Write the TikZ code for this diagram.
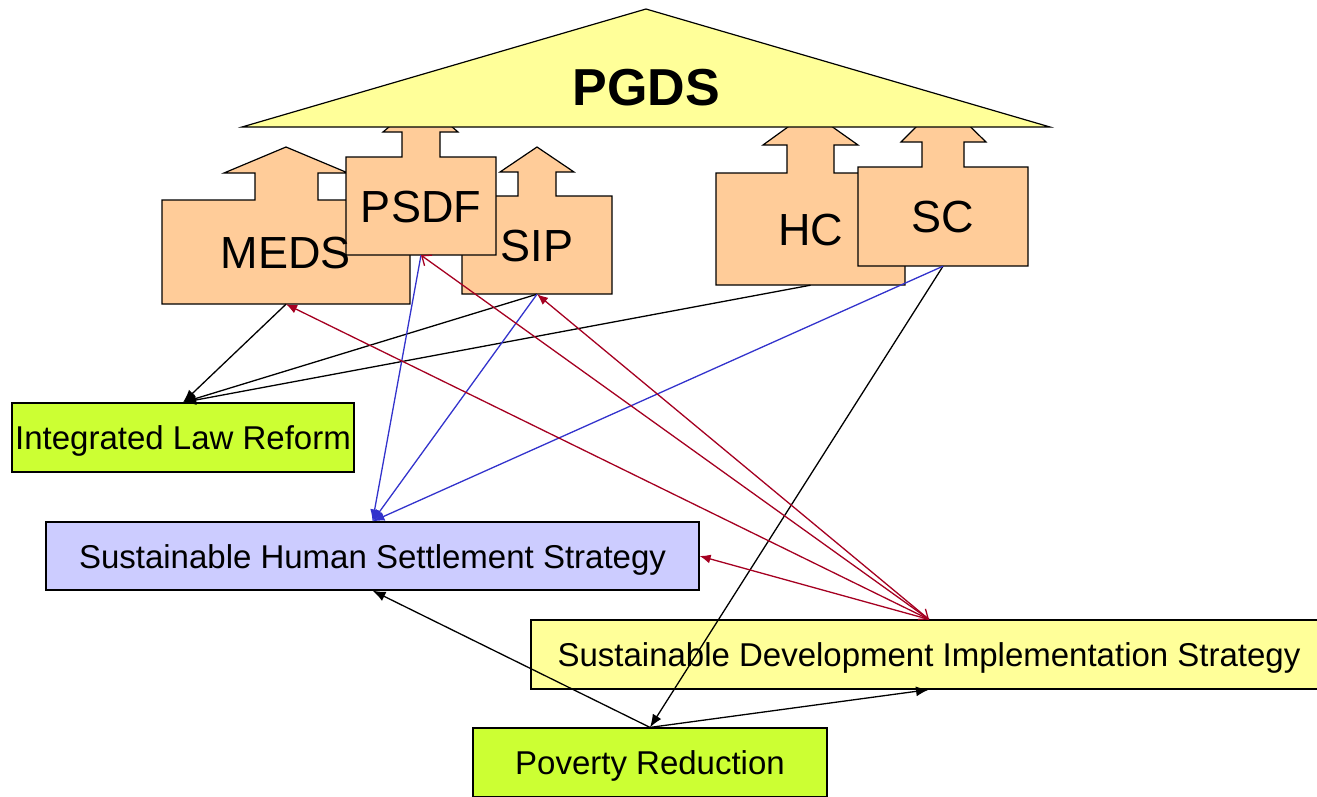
\documentclass[tikz,border=0pt]{standalone}
\usepackage{fontspec}
\setmainfont{Liberation Sans}
\usetikzlibrary{arrows.meta}

\definecolor{peach}{RGB}{255,204,153}
\definecolor{paleyellow}{RGB}{255,255,153}
\definecolor{limegreen}{RGB}{204,255,51}
\definecolor{lavender}{RGB}{204,204,255}
\definecolor{linkred}{RGB}{165,0,33}
\definecolor{linkblue}{RGB}{51,51,204}

\tikzset{
  house/.style={draw, fill=peach, line width=1.2pt, line join=miter},
  houselabel/.style={inner sep=0pt, text height=32pt, text depth=0pt, font=\fontsize{45}{50}\selectfont},
  strategybox/.style={draw, line width=1.2pt, inner sep=0pt, minimum height=69pt,
    text height=24pt, text depth=0pt, font=\fontsize{33}{40}\selectfont},
  blackarrow/.style={-{Latex[length=13pt,width=10pt]}, line width=1.3pt},
  bluearrow/.style={draw=linkblue, -{Latex[length=12pt,width=9pt]}, line width=1.3pt},
  redarrow/.style={draw=linkred, -{Latex[length=11pt,width=9pt]}, line width=1.3pt},
  redopen/.style={draw=linkred, {Straight Barb[length=8pt,width=13pt]}-{Straight Barb[length=8pt,width=13pt]}, line width=1.3pt}
}

\begin{document}
\begin{tikzpicture}[x=1pt, y=-1pt]
        \useasboundingbox (0,0) rectangle (1317,796);

        %draw blocks with their up arrows
        \draw[house] (162,304) -- (162,200) -- (255,200) -- (255,173) -- (224,173) -- (286,147) -- (348,173) -- (318,173) -- (318,200) -- (410,200) -- (410,304) -- cycle;
        \draw[house] (462,294) -- (462,196) -- (518,196) -- (518,172) -- (500,172) -- (537,147) -- (574,172) -- (556,172) -- (556,196) -- (612,196) -- (612,294) -- cycle;
        \draw[house] (346,255) -- (346,157) -- (402,157) -- (402,132) -- (383,132) -- (421,100) -- (458,132) -- (440,132) -- (440,157) -- (496,157) -- (496,255) -- cycle;
        \draw[house] (716,285) -- (716,173) -- (787,173) -- (787,145) -- (763,145) -- (810,111) -- (858,145) -- (834,145) -- (834,173) -- (905,173) -- (905,285) -- cycle;
        \draw[house] (858,266) -- (858,167) -- (922,167) -- (922,142) -- (901,142) -- (943,100) -- (986,142) -- (964,142) -- (964,167) -- (1028,167) -- (1028,266) -- cycle;

        \node[houselabel, minimum width=248pt, minimum height=104pt] (meds) at (286,252) {MEDS};
        \node[houselabel, minimum width=150pt, minimum height=98pt] (sip) at (537,245) {SIP};
        \node[houselabel, minimum width=150pt, minimum height=98pt] (psdf) at (421,206) {PSDF};
        \node[houselabel, minimum width=189pt, minimum height=112pt] (hc) at (810.5,229) {HC};
        \node[houselabel, minimum width=170pt, minimum height=99pt] (sc) at (943,216.5) {SC};

        %draw roof
        \draw[fill=paleyellow, line width=1.2pt] (242,127) -- (646,9) -- (1050,127) -- cycle;
        \node[inner sep=0pt, font=\fontsize{52}{56}\selectfont\bfseries] (pgds) at (646,88) {PGDS};

        %strategies
        \node[strategybox, fill=limegreen, minimum width=342pt] (ilr) at (183,437.5) {Integrated Law Reform};
        \node[strategybox, fill=lavender, minimum width=653pt, minimum height=68pt] (shss) at (372.5,556) {Sustainable Human Settlement Strategy};
        \node[strategybox, fill=paleyellow, minimum width=796pt] (sdis) at (929,654.5) {Sustainable Development Implementation Strategy};
        \node[strategybox, fill=limegreen, minimum width=354pt] (pr) at (650,762.5) {Poverty Reduction};

        %black links
        \draw[blackarrow] (meds.south) -- (ilr.north);
        \draw[blackarrow] (sip.south) -- (ilr.north);
        \draw[blackarrow] (hc.south) -- (ilr.north);
        \draw[blackarrow] (sc.south) -- (pr.north);
        \draw[blackarrow] (pr.north) -- (shss.south);
        \draw[blackarrow] (pr.north) -- (sdis.south);

        %blue links
        \draw[bluearrow] (psdf.south) -- (shss.north);
        \draw[bluearrow] (sip.south) -- (shss.north);
        \draw[bluearrow] (sc.south) -- (shss.north);

        %red links
        \draw[redarrow] (sdis.north) -- (meds.south);
        \draw[redopen] (sdis.north) -- (psdf.south);
        \draw[redarrow] (sdis.north) -- (sip.south);
        \draw[redarrow] (sdis.north) -- (shss.east);
\end{tikzpicture}
\end{document}
